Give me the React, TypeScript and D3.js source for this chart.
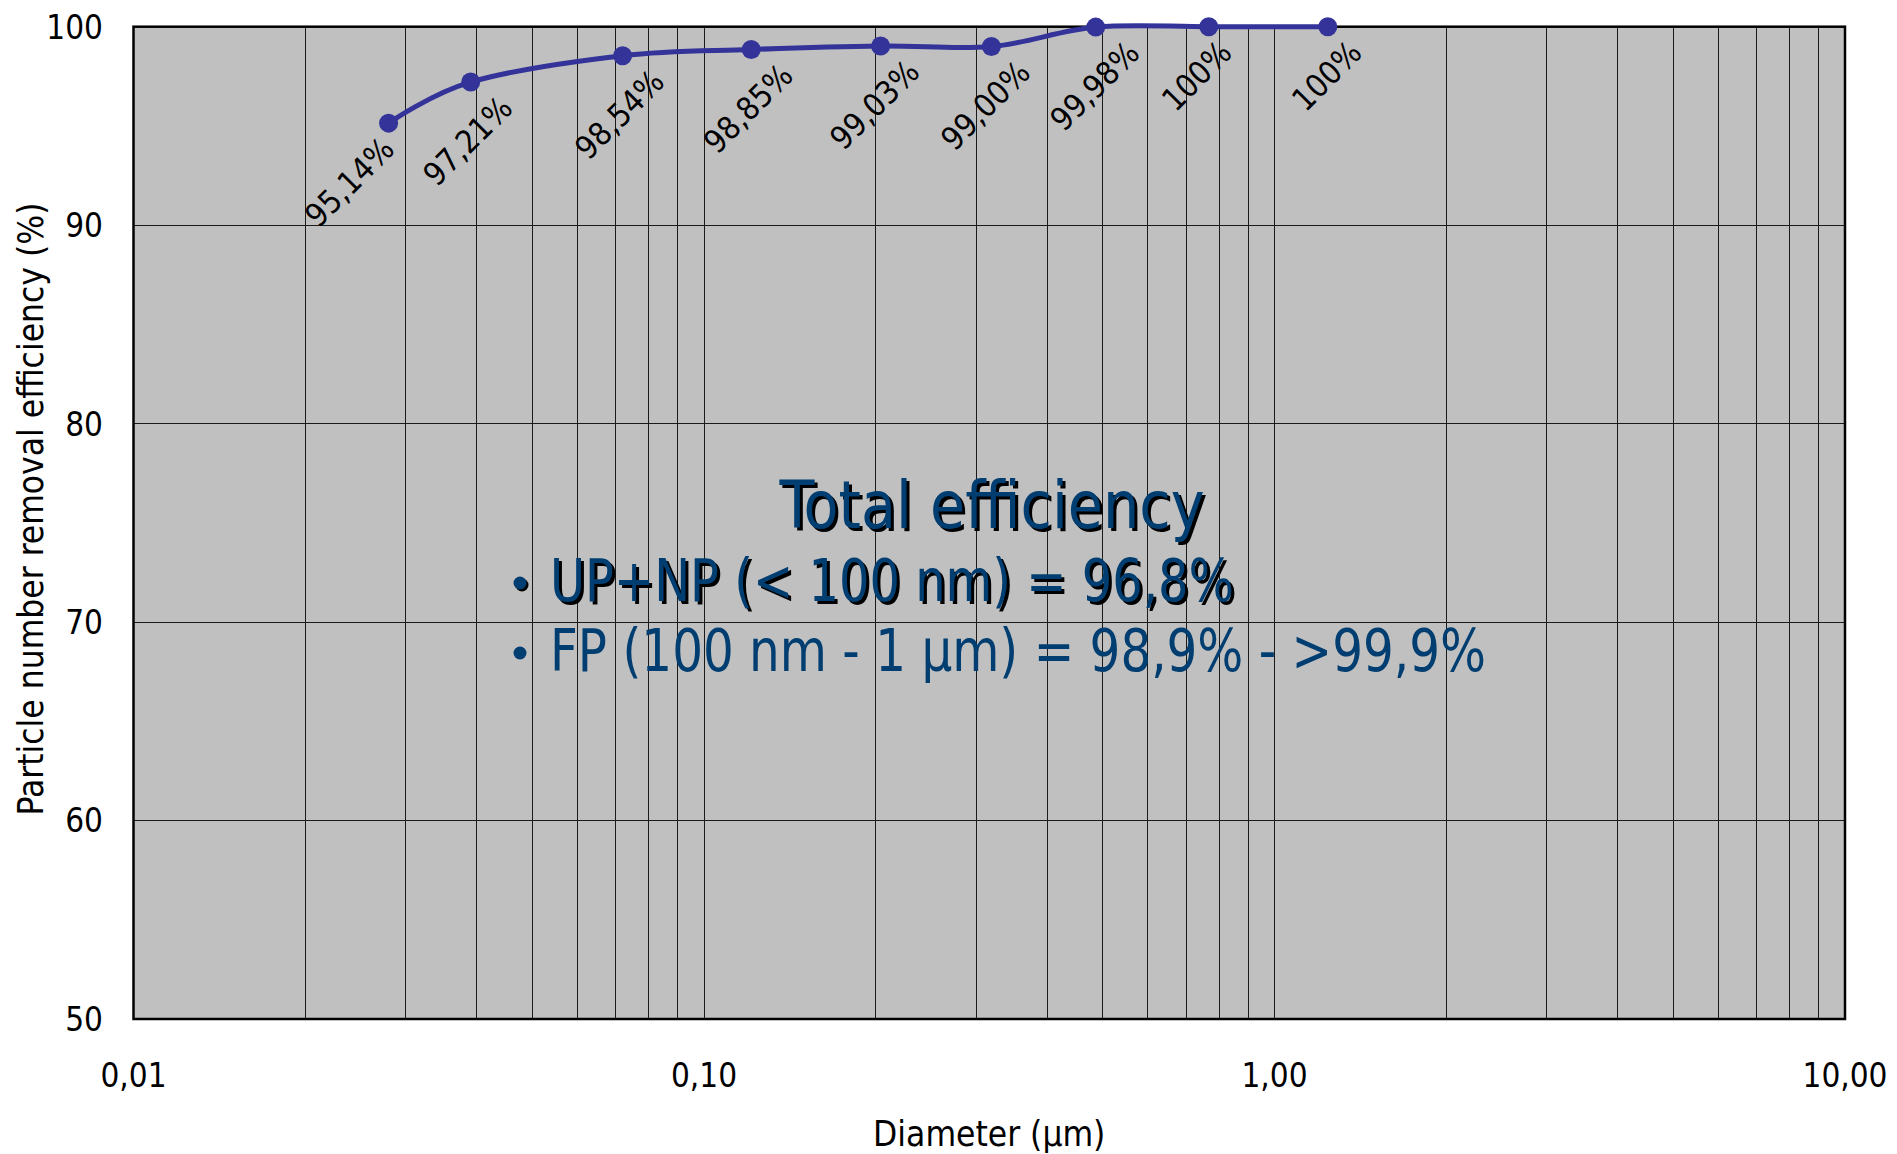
import React, { useEffect, useRef } from "react";
import * as d3 from "d3";

// Particle diameter (µm) and number removal efficiency (%)
const diameters = [0.028, 0.039, 0.072, 0.121, 0.204, 0.319, 0.486, 0.767, 1.24];
const efficiency = [95.14, 97.21, 98.54, 98.85, 99.03, 99.0, 99.98, 100, 100];
const pointLabels = ["95,14%", "97,21%", "98,54%", "98,85%", "99,03%", "99,00%", "99,98%", "100%", "100%"];
// manual horizontal nudges of the data labels (px)
const labelNudge = [-39, -3, -3, -3, -6, -6, -1, -12, -1];

const xTicks = [0.01, 0.1, 1, 10];
const xTickLabels = ["0,01", "0,10", "1,00", "10,00"];
const yTicks = [50, 60, 70, 80, 90, 100];

const summaryTitle = "Total efficiency";
const summaryLines = ["UP+NP (< 100 nm) = 96,8%", "FP (100 nm - 1 µm) = 98,9% - >99,9%"];

const W = 1897;
const H = 1154;
const M = { left: 133.5, right: 1845, top: 26.7, bottom: 1019 };
const FONT = "'DejaVu Sans Condensed', 'DejaVu Sans', Verdana, sans-serif";
const BLUE = "#003d70";

export default function App() {
  const ref = useRef<SVGSVGElement | null>(null);

  useEffect(() => {
    const svg = d3.select(ref.current);
    svg.selectAll("*").remove();

    const x = d3.scaleLog().domain([0.01, 10]).range([M.left, M.right]);
    const y = d3.scaleLinear().domain([50, 100]).range([M.bottom, M.top]);

    svg.append("rect").attr("width", W).attr("height", H).attr("fill", "#ffffff");

    // plot area
    svg
      .append("rect")
      .attr("x", M.left)
      .attr("y", M.top)
      .attr("width", M.right - M.left)
      .attr("height", M.bottom - M.top)
      .attr("fill", "#c0c0c0");

    // vertical log grid (minor 2..9 in each decade)
    const minor: number[] = [];
    [0.01, 0.1, 1].forEach((d) => {
      for (let k = 2; k <= 9; k++) minor.push(d * k);
    });
    minor.push(0.1, 1);
    svg
      .append("g")
      .selectAll("line")
      .data(minor)
      .join("line")
      .attr("x1", (d) => x(d))
      .attr("x2", (d) => x(d))
      .attr("y1", M.top)
      .attr("y2", M.bottom)
      .attr("stroke", "#1a1a1a")
      .attr("stroke-width", 1)
      .attr("shape-rendering", "crispEdges");

    // horizontal grid
    svg
      .append("g")
      .selectAll("line")
      .data(yTicks.slice(1, -1))
      .join("line")
      .attr("x1", M.left)
      .attr("x2", M.right)
      .attr("y1", (d) => y(d))
      .attr("y2", (d) => y(d))
      .attr("stroke", "#1a1a1a")
      .attr("stroke-width", 1)
      .attr("shape-rendering", "crispEdges");

    // plot border
    svg
      .append("rect")
      .attr("x", M.left)
      .attr("y", M.top)
      .attr("width", M.right - M.left)
      .attr("height", M.bottom - M.top)
      .attr("fill", "none")
      .attr("stroke", "#000")
      .attr("stroke-width", 2.5);

    // y tick labels
    svg
      .append("g")
      .selectAll("text")
      .data(yTicks)
      .join("text")
      .attr("x", 103)
      .attr("y", (d) => y(d))
      .attr("dy", "0.36em")
      .attr("text-anchor", "end")
      .attr("font-family", FONT)
      .attr("font-size", 33)
      .attr("fill", "#000")
      .text((d) => String(d));

    // x tick labels
    svg
      .append("g")
      .selectAll("text")
      .data(xTicks)
      .join("text")
      .attr("x", (d) => x(d))
      .attr("y", 1087)
      .attr("text-anchor", "middle")
      .attr("font-family", FONT)
      .attr("font-size", 33)
      .attr("fill", "#000")
      .text((_, i) => xTickLabels[i]);

    // axis titles
    svg
      .append("text")
      .attr("x", (M.left + M.right) / 2)
      .attr("y", 1146)
      .attr("text-anchor", "middle")
      .attr("font-family", FONT)
      .attr("font-size", 35)
      .attr("fill", "#000")
      .text("Diameter (µm)");

    svg
      .append("text")
      .attr("transform", `translate(43,509) rotate(-90)`)
      .attr("text-anchor", "middle")
      .attr("font-family", FONT)
      .attr("font-size", 35)
      .attr("fill", "#000")
      .text("Particle number removal efficiency (%)");

    // summary box text
    const addShadowed = (
      txt: string,
      tx: number,
      ty: number,
      size: number,
      anchor: string,
      len: number,
      shadow: boolean
    ) => {
      const mk = (dx: number, fill: string) =>
        svg
          .append("text")
          .attr("x", tx + dx)
          .attr("y", ty + dx)
          .attr("text-anchor", anchor)
          .attr("font-family", FONT)
          .attr("font-size", size)
          .attr("textLength", len)
          .attr("lengthAdjust", "spacingAndGlyphs")
          .attr("fill", fill)
          .text(txt);
      if (shadow) mk(3, "#000");
      mk(0, BLUE);
    };
    addShadowed(summaryTitle, 992, 528, 66, "middle", 425, true);
    addShadowed(summaryLines[0], 550, 601, 58, "start", 684, true);
    addShadowed(summaryLines[1], 550, 671, 58, "start", 936, false);
    [583, 653].forEach((by, i) => {
      if (i === 0) svg.append("circle").attr("cx", 522).attr("cy", by + 2).attr("r", 6.5).attr("fill", "#000");
      svg.append("circle").attr("cx", 520).attr("cy", by).attr("r", 6.5).attr("fill", BLUE);
    });

    // efficiency curve
    const pts: [number, number][] = diameters.map((d, i) => [x(d), y(efficiency[i])]);
    const line = d3.line().curve(d3.curveCardinal.tension(0));
    svg
      .append("path")
      .attr("d", line(pts))
      .attr("fill", "none")
      .attr("stroke", "#333399")
      .attr("stroke-width", 5);

    svg
      .append("g")
      .selectAll("circle")
      .data(pts)
      .join("circle")
      .attr("cx", (d) => d[0])
      .attr("cy", (d) => d[1])
      .attr("r", 9.5)
      .attr("fill", "#333399");

    // data labels, rotated -45°, placed below each marker
    const labelSize = 32;
    const gap = 12;
    const lg = svg.append("g");
    pts.forEach((p, i) => {
      const t = lg
        .append("text")
        .attr("text-anchor", "middle")
        .attr("dominant-baseline", "central")
        .attr("font-family", FONT)
        .attr("font-size", labelSize)
        .attr("fill", "#000")
        .text(pointLabels[i]);
      const w = (t.node() as SVGTextElement).getComputedTextLength();
      const half = ((w + labelSize * 0.73) * Math.SQRT1_2) / 2;
      const cx = p[0] + labelNudge[i];
      const cy = p[1] + gap + half;
      t.attr("transform", `translate(${cx},${cy}) rotate(-45)`);
    });
  }, []);

  return (
    <svg
      ref={ref}
      width={W}
      height={H}
      style={{ position: "absolute", left: 0, top: 0, display: "block" }}
    />
  );
}
